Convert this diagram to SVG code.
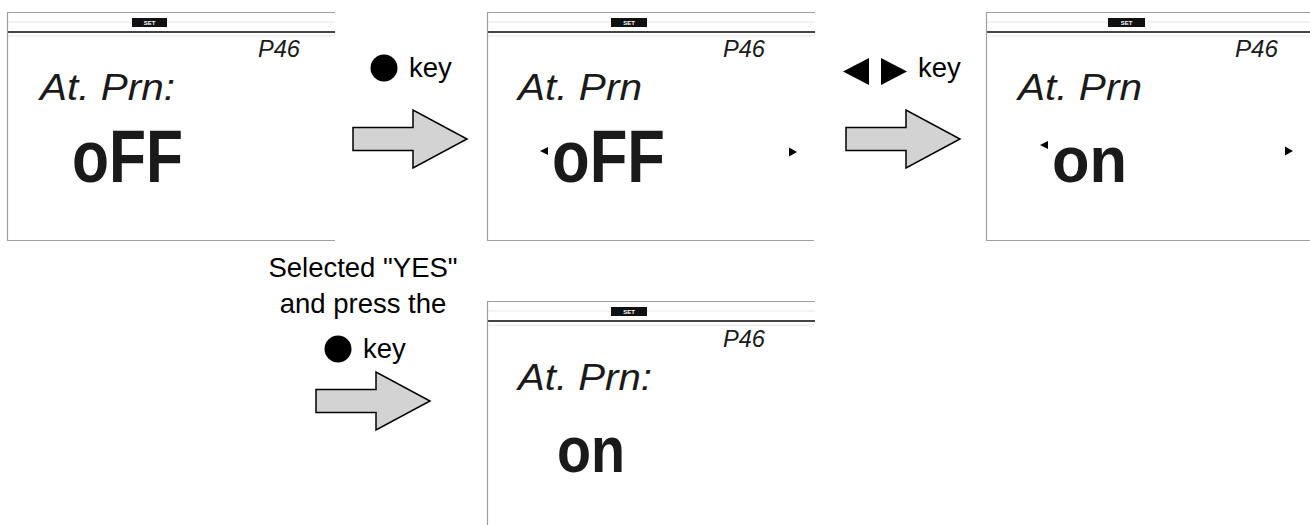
<svg xmlns="http://www.w3.org/2000/svg" width="1310" height="525" viewBox="0 0 1310 525">
<style>
.lbl{font-family:"Liberation Sans",Arial,sans-serif;font-size:27.5px;fill:#000}
.frame{fill:#fff;stroke:none}
.edge{stroke:#a0a0a0;stroke-width:1.2;fill:none}
.bar{stroke:#444;stroke-width:2.2}
.faint{stroke:#e6e6e6;stroke-width:1}
.setbox{fill:#111}
.settx{font-family:"Liberation Sans",Arial,sans-serif;font-size:6px;font-weight:bold;fill:#fff;text-anchor:middle}
.lcd{font-family:"Liberation Sans",Arial,sans-serif;font-style:italic;fill:#1a1a1a}
.t1{font-size:37px}
.pn{font-size:23px}
.big{font-size:74px;font-weight:bold;font-style:normal}
.big2{font-size:64px;font-weight:bold;font-style:normal}
.blk{fill:#000}
.arr{fill:#d3d3d3;stroke:#000;stroke-width:1.5;stroke-linejoin:miter}
</style>
<defs>
<g id="lcdbase">
<rect class="frame" x="0" y="0" width="328" height="229"/>
<line class="faint" x1="0" y1="10" x2="328" y2="10"/>
<line class="faint" x1="0" y1="24" x2="328" y2="24"/>
<line class="edge" x1="0" y1="0.5" x2="328" y2="0.5"/>
<line class="bar" x1="0" y1="20" x2="328" y2="20"/>
<line class="edge" x1="0.5" y1="0" x2="0.5" y2="229"/>
</g>
<polygon id="blockarrow" class="arr" points="0,-11.5 60,-11.5 60,-29 114,0 60,29 60,11.5 0,11.5"/>
</defs>

<g id="screen1">
<use href="#lcdbase" x="7" y="12"/>
<line class="edge" x1="7" y1="240.5" x2="335" y2="240.5"/>
<rect class="setbox" x="132" y="18" width="35" height="9"/>
<text class="settx" x="149.5" y="25">SET</text>
<text class="lcd pn" x="258" y="57" textLength="42" lengthAdjust="spacingAndGlyphs">P46</text>
<text class="lcd t1" x="40" y="100" textLength="135" lengthAdjust="spacingAndGlyphs">At. Prn:</text>
<text class="lcd big" x="72" y="182" textLength="111" lengthAdjust="spacingAndGlyphs">oFF</text>
</g>

<g id="screen2">
<use href="#lcdbase" x="487" y="12"/>
<line class="edge" x1="487" y1="240.5" x2="814" y2="240.5"/>
<rect class="setbox" x="611" y="18" width="36" height="9"/>
<text class="settx" x="629" y="25">SET</text>
<text class="lcd pn" x="723" y="57" textLength="42" lengthAdjust="spacingAndGlyphs">P46</text>
<text class="lcd t1" x="518" y="100" textLength="124" lengthAdjust="spacingAndGlyphs">At. Prn</text>
<polygon class="blk" points="540,151 548,147 548,155"/>
<text class="lcd big" x="552" y="182" textLength="113" lengthAdjust="spacingAndGlyphs">oFF</text>
<polygon class="blk" points="797,152 789,147.5 789,156.5"/>
</g>

<g id="screen3">
<use href="#lcdbase" x="986" y="12"/>
<line class="edge" x1="986" y1="240.5" x2="1310" y2="240.5"/>
<rect class="setbox" x="1108" y="18" width="37" height="9"/>
<text class="settx" x="1126.5" y="25">SET</text>
<text class="lcd pn" x="1235" y="57" textLength="43" lengthAdjust="spacingAndGlyphs">P46</text>
<text class="lcd t1" x="1018" y="100" textLength="124" lengthAdjust="spacingAndGlyphs">At. Prn</text>
<polygon class="blk" points="1040,145 1048,141 1048,149"/>
<text class="lcd big2" x="1052" y="182" textLength="75" lengthAdjust="spacingAndGlyphs">on</text>
<polygon class="blk" points="1293,151 1285,146.5 1285,155.5"/>
</g>

<g id="screen4">
<use href="#lcdbase" x="487" y="301"/>
<rect class="setbox" x="611" y="307" width="36" height="9"/>
<text class="settx" x="629" y="314">SET</text>
<text class="lcd pn" x="723" y="347" textLength="42" lengthAdjust="spacingAndGlyphs">P46</text>
<text class="lcd t1" x="518" y="390" textLength="134" lengthAdjust="spacingAndGlyphs">At. Prn:</text>
<text class="lcd big2" x="557" y="472" textLength="68" lengthAdjust="spacingAndGlyphs">on</text>
</g>

<g id="connectors">
<use href="#blockarrow" x="353" y="139"/>
<use href="#blockarrow" x="846" y="139"/>
<use href="#blockarrow" x="316" y="401"/>
</g>

<g id="label1">
<circle class="blk" cx="384" cy="68" r="13.5"/>
<text class="lbl" x="409" y="77">key</text>
</g>
<g id="label2">
<polygon class="blk" points="843,71.5 869,58 869,85"/>
<polygon class="blk" points="907,71.5 881,58 881,85"/>
<text class="lbl" x="918" y="77">key</text>
</g>
<g id="label3">
<text class="lbl" x="363" y="277" text-anchor="middle">Selected "YES"</text>
<text class="lbl" x="363" y="313" text-anchor="middle">and press the</text>
<circle class="blk" cx="338" cy="349" r="13.5"/>
<text class="lbl" x="363" y="358">key</text>
</g>
</svg>
